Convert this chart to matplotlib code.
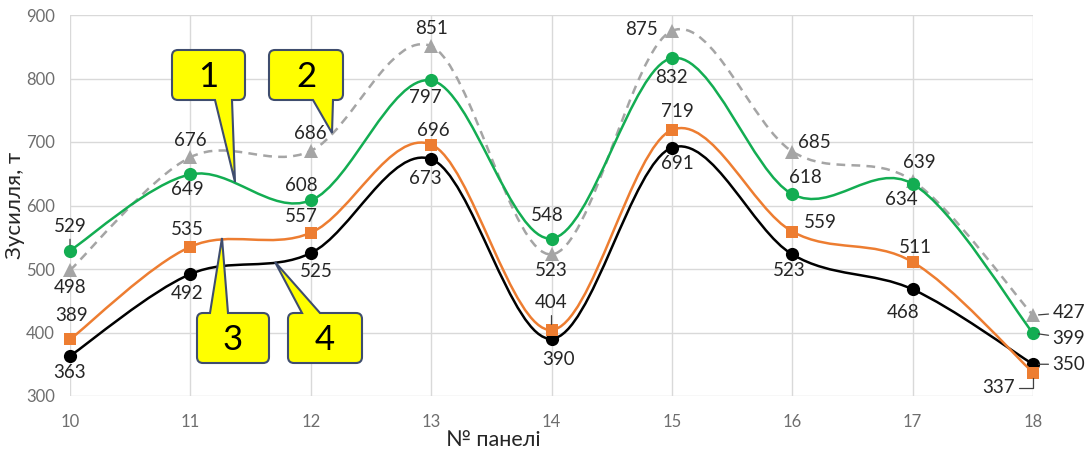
import numpy as np
import matplotlib
matplotlib.use("Agg")
import matplotlib.pyplot as plt
from matplotlib.path import Path
from matplotlib.patches import PathPatch
import matplotlib.transforms as mtransforms

# ── Data ──────────────────────────────────────────────────────────────────────
panels = [10, 11, 12, 13, 14, 15, 16, 17, 18]
s_grey   = [498, 676, 686, 851, 523, 875, 685, 639, 427]   # 2 (dashed, triangles)
s_green  = [529, 649, 608, 797, 548, 832, 618, 634, 399]   # 1
s_orange = [389, 535, 557, 696, 404, 719, 559, 511, 337]   # 3
s_black  = [363, 492, 525, 673, 390, 691, 523, 468, 350]   # 4

W, H = 1091, 450
FONT = "Lato"
plt.rcParams["font.family"] = [FONT, "DejaVu Sans"]

C_GREY, C_GREEN, C_ORANGE, C_BLACK = "#A5A5A5", "#13AD52", "#ED7D31", "#000000"
C_LABEL = "#262626"


def smooth_path(xs, ys):
    """Excel-like smoothed line through the points (cubic Bezier segments)."""
    pts = np.column_stack([xs, ys]).astype(float)
    n = len(pts)
    verts, codes = [pts[0]], [Path.MOVETO]
    for i in range(n - 1):
        p0, p1 = pts[max(i - 1, 0)], pts[i]
        p2, p3 = pts[i + 1], pts[min(i + 2, n - 1)]
        verts += [p1 + (p2 - p0) / 6, p2 - (p3 - p1) / 6, p2]
        codes += [Path.CURVE4] * 3
    return Path(verts, codes)


fig = plt.figure(figsize=(W / 100, H / 100), dpi=100)
ax = fig.add_axes([70 / W, (H - 396) / H, (1033 - 70) / W, (396 - 15) / H])

# pixel (top-left origin) -> figure
px = mtransforms.Affine2D().scale(1 / W, -1 / H).translate(0, 1) + fig.transFigure

series = [
    # values, color, marker, linestyle, label offsets in px (dx, dy), leaders
    (s_grey, C_GREY, "^", (0, (3.5, 2.5)),
     [(0, -17), (0, 17), (0, 17), (0, 18), (0, -16), (-30, 1), (22, 9), (7, 18), (36, 3)],
     {8}),
    (s_black, C_BLACK, "o", "-",
     [(0, -17), (-3, -19), (6, -18), (-6, -19), (7, -21), (6, -16), (-3, -16), (-10, -23), (36, 0)],
     {8}),
    (s_orange, C_ORANGE, "s", "-",
     [(2, 24), (-3, 17), (-9, 16), (2, 14), (0, 27), (5, 18), (28, 9), (3, 15), (-34, -15)],
     {4}),
    (s_green, C_GREEN, "o", "-",
     [(0, 24), (-3, -15), (-9, 15), (-6, -17), (-4, 23), (0, -19), (13, 17), (-11, -16), (36, -5)],
     {0, 8}),
]

for z, (vals, color, marker, ls, offs, leaders) in enumerate(series):
    patch = PathPatch(smooth_path(panels, vals), facecolor="none", edgecolor=color,
                      lw=1.8, linestyle=ls, zorder=3 + z, capstyle="butt")
    ax.add_patch(patch)
    ax.plot(panels, vals, linestyle="none", marker=marker, color=color,
            markersize=9.5 if marker != "s" else 9, markeredgewidth=0,
            zorder=3.5 + z, clip_on=False)
    for i, (x, v) in enumerate(zip(panels, vals)):
        dx, dy = offs[i]
        kw = {}
        if i in leaders:
            kw["arrowprops"] = dict(arrowstyle="-", color="#404040", lw=0.9,
                                    shrinkA=1, shrinkB=4)
        ax.annotate(str(v), (x, v), xytext=(dx, dy), textcoords="offset pixels",
                    ha="center", va="center", fontsize=13.5, color=C_LABEL,
                    zorder=20, annotation_clip=False, **kw)

# L-shaped leader for 337
ax.annotate("", (18, 337), xytext=(-14, -15), textcoords="offset pixels",
            arrowprops=dict(arrowstyle="-", color="#404040", lw=0.9, shrinkA=0, shrinkB=4,
                            connectionstyle="angle,angleA=0,angleB=90,rad=0"),
            annotation_clip=False, zorder=20)

ax.set_xlim(10, 18)
ax.set_ylim(300, 900)
ax.set_xticks(panels)
ax.set_yticks(range(300, 901, 100))
ax.grid(True, color="#D9D9D9", lw=1)
ax.set_axisbelow(True)
for sp in ax.spines.values():
    sp.set_visible(False)
ax.tick_params(length=0, labelsize=12, colors="#6E6E6E")
ax.tick_params(axis="x", pad=13)
ax.tick_params(axis="y", pad=11)

fig.text(15, 205, "Зусилля, т", transform=px, rotation=90, ha="center", va="center",
         fontsize=16, color=C_LABEL)
fig.text(493, 440, "№ панелі", transform=px, ha="center", va="center",
         fontsize=15.5, color=C_LABEL)


# ── Callouts ──────────────────────────────────────────────────────────────────
def callout(text, x0, y0, x1, y1, side, ba, bb, tip, r=6):
    v, c = [], []
    L, Q = Path.LINETO, Path.CURVE3
    v.append((x0 + r, y0)); c.append(Path.MOVETO)
    if side == "top":
        v += [(ba, y0), tip, (bb, y0)]; c += [L, L, L]
    v += [(x1 - r, y0), (x1, y0), (x1, y0 + r)]; c += [L, Q, Q]
    v += [(x1, y1 - r), (x1, y1), (x1 - r, y1)]; c += [L, Q, Q]
    if side == "bottom":
        v += [(bb, y1), tip, (ba, y1)]; c += [L, L, L]
    v += [(x0 + r, y1), (x0, y1), (x0, y1 - r)]; c += [L, Q, Q]
    v += [(x0, y0 + r), (x0, y0), (x0 + r, y0)]; c += [L, Q, Q]
    v.append((x0 + r, y0)); c.append(Path.CLOSEPOLY)
    fig.add_artist(PathPatch(Path(v, c), facecolor="#FFFF00", edgecolor="#3F4D6E",
                             lw=1.5, transform=px, zorder=30))
    fig.text((x0 + x1) / 2, (y0 + y1) / 2 + 2, text, transform=px, ha="center",
             va="center", fontsize=25, color="black", zorder=31)


callout("1", 172, 50, 245, 100, "bottom", 215, 232, (235, 182))
callout("2", 269, 50, 343, 100, "bottom", 313, 333, (332, 133))
callout("3", 197, 313, 269, 363, "top", 210, 228, (222, 238))
callout("4", 288, 313, 362, 363, "top", 302, 320, (275, 262))

fig.savefig("out.png", dpi=100, facecolor="white")
